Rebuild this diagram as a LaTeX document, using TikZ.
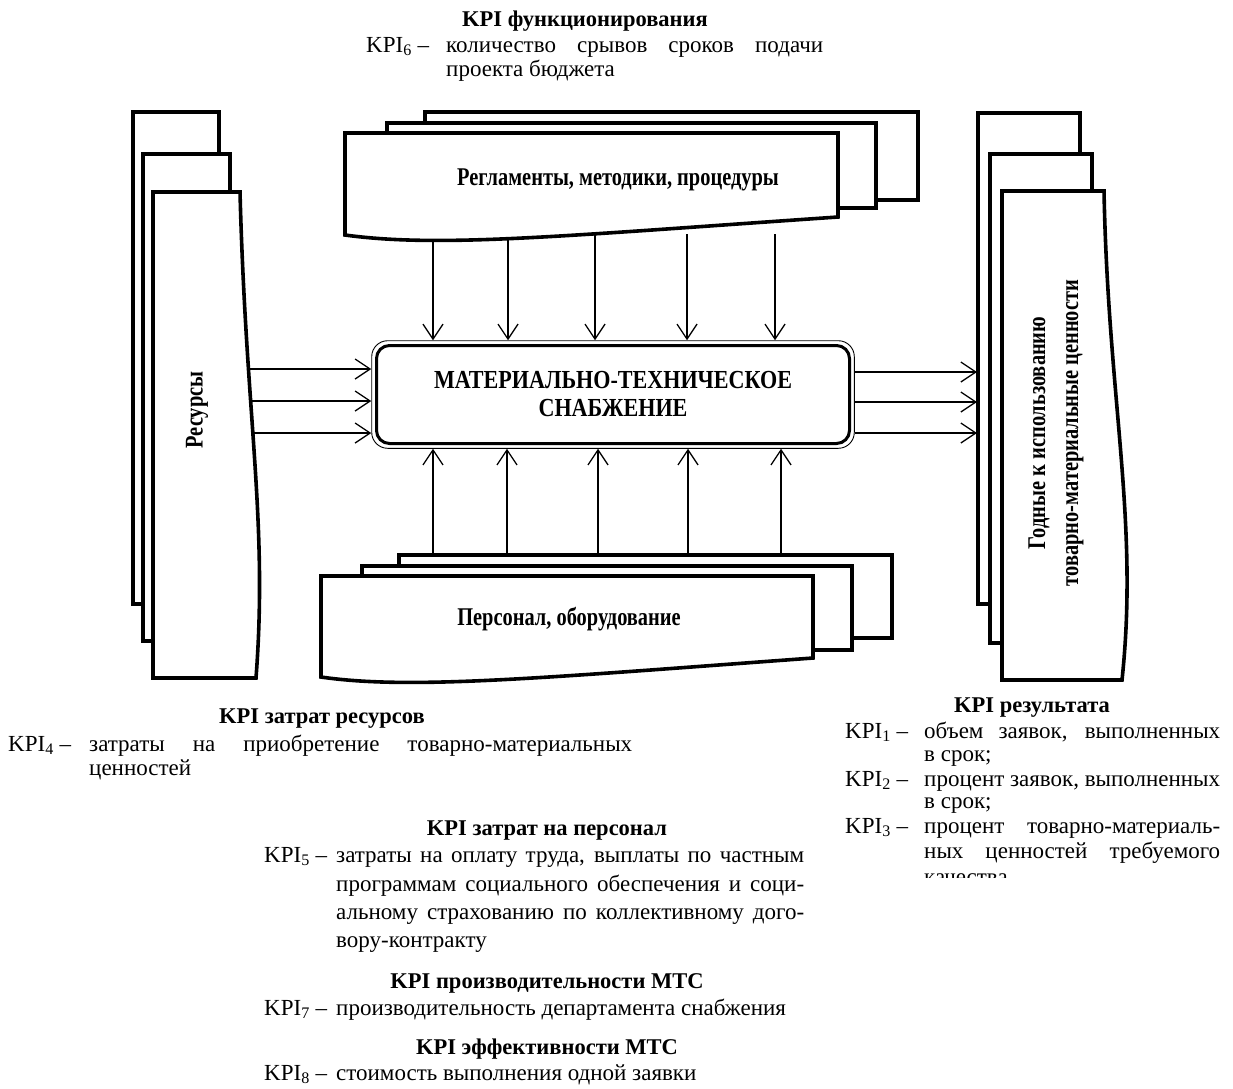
\documentclass[tikz,border=0pt]{standalone}
\usepackage{fontspec}
\setmainfont{Liberation Serif}
\newfontfamily\condf[FakeStretch=0.8]{Liberation Serif}
\newfontfamily\boxf[FakeStretch=0.85]{Liberation Serif}
\usetikzlibrary{arrows.meta,fit}

\begin{document}
\begin{tikzpicture}[x=1pt,y=-1pt,
  doc/.style={draw=black, fill=white, line width=3.6pt, line join=miter},
  arr/.style={line width=1.3pt, -{Straight Barb[length=15pt,width=20pt]}},
  ttl/.style={inner sep=0pt, anchor=base, font=\fontsize{22.5}{26}\selectfont\bfseries},
  txt/.style={inner sep=0pt, anchor=base west, font=\fontsize{23}{26}\selectfont},
  lbl/.style={inner sep=0pt, font=\fontsize{25.5}{33}\selectfont\condf\bfseries, align=center},
]
\fill[white] (0,0) rectangle (1233,1088);
\useasboundingbox (0,0) rectangle (1233,1088);

% central box
\node[draw, line width=3pt, rounded corners=13pt, minimum width=473pt, minimum height=98pt,
      inner sep=0pt, align=center, font=\fontsize{26}{28}\selectfont\boxf\bfseries]
      (box) at (613,394.5) {МАТЕРИАЛЬНО-ТЕХНИЧЕСКОЕ\\СНАБЖЕНИЕ};
\node[draw, line width=0.9pt, rounded corners=16pt, fit=(box), inner sep=3.3pt] (boxo) {};

% arrows from top documents
\foreach \i/\x in {1/433,2/508,3/595,4/687,5/775}{
  \coordinate (t\i) at (\x,234);
  \draw[arr] (t\i) -- (t\i |- boxo.north);
}
% arrows from bottom documents
\foreach \i/\x in {1/433,2/507,3/598,4/688,5/781}{
  \coordinate (b\i) at (\x,555);
  \draw[arr] (b\i) -- (b\i |- boxo.south);
}

% left stack (resources)
\draw[doc] (133,112) rectangle (219,604);
\draw[doc] (143,154) rectangle (230,641);
\draw[doc] (153,192) -- (240,192) .. controls (246,420) and (268,520) .. (256,678) -- (153,678) -- cycle;
\node[lbl, rotate=90] (res) at (197,410) {Ресурсы};

% top stack
\draw[doc] (425,112) rectangle (918,200);
\draw[doc] (387,123) rectangle (876,208);
\draw[doc] (345,133) -- (838,133) -- (838,217) .. controls (560,236) and (440,248) .. (345,235) -- cycle;
\node[lbl] (reg) at (618,180) {Регламенты, методики, процедуры};

% bottom stack
\draw[doc] (399,555) rectangle (892,638);
\draw[doc] (362,566) rectangle (852,650);
\draw[doc] (321,576) -- (813,576) -- (813,658) .. controls (540,678) and (410,690) .. (321,677) -- cycle;
\node[lbl] (pers) at (569,619) {Персонал, оборудование};

% right stack
\draw[doc] (978,113) rectangle (1080,604);
\draw[doc] (990,154) rectangle (1092,643);
\draw[doc] (1002,191) -- (1104,191) .. controls (1108,400) and (1139,520) .. (1122,680) -- (1002,680) -- cycle;
\node[lbl, rotate=90] (god) at (1056,433) {Годные к использованию\\товарно-материальные ценности};

% left arrows
\coordinate (l1) at (249,369);
\coordinate (l2) at (251,401);
\coordinate (l3) at (253,433);
\foreach \i in {1,2,3}{\draw[arr] (l\i) -- (l\i -| boxo.west);}
% right arrows
\coordinate (r1) at (977,372);
\coordinate (r2) at (977,402);
\coordinate (r3) at (977,433);
\foreach \i in {1,2,3}{\draw[arr] (r\i -| boxo.east) -- (r\i);}

% top text block
\node[ttl] (h6) at (585,26) {KPI функционирования};
\node[txt] (k6) at (366,52) {KPI\textsubscript{6} –};
\node[txt] (t6a) at (446,52) {\makebox[377pt][s]{количество срывов сроков подачи}};
\node[txt] (t6b) at (446,76) {проекта бюджета};

% left text block
\node[ttl] (h4) at (322,723) {KPI затрат ресурсов};
\node[txt] (k4) at (8,751) {KPI\textsubscript{4} –};
\node[txt] (t4a) at (89,751) {\makebox[543pt][s]{затраты на приобретение товарно-материальных}};
\node[txt] (t4b) at (89,775) {ценностей};

% right text block
\node[ttl] (h1) at (1032,712) {KPI результата};
\node[txt] (k1) at (845,738) {KPI\textsubscript{1} –};
\node[txt] (t1a) at (924,738) {\makebox[296pt][s]{объем заявок, выполненных}};
\node[txt] (t1b) at (924,761) {в срок;};
\node[txt] (k2) at (845,786) {KPI\textsubscript{2} –};
\node[txt] (t2a) at (924,786) {\makebox[296pt][s]{процент заявок, выполненных}};
\node[txt] (t2b) at (924,808) {в срок;};
\node[txt] (k3) at (845,833) {KPI\textsubscript{3} –};
\node[txt] (t3a) at (924,833) {\makebox[296pt][s]{процент товарно-материаль-}};
\node[txt] (t3b) at (924,858) {\makebox[296pt][s]{ных ценностей требуемого}};
\begin{scope}
  \clip (900,862) rectangle (1233,877);
  \node[txt] (t3c) at (924,884) {качества.};
\end{scope}

% middle text block
\node[ttl] (h5) at (547,835) {KPI затрат на персонал};
\node[txt] (k5) at (264,862) {KPI\textsubscript{5} –};
\node[txt] (t5a) at (336,862) {\makebox[468pt][s]{затраты на оплату труда, выплаты по частным}};
\node[txt] (t5b) at (336,891) {\makebox[468pt][s]{программам социального обеспечения и соци-}};
\node[txt] (t5c) at (336,919) {\makebox[468pt][s]{альному страхованию по коллективному дого-}};
\node[txt] (t5d) at (336,947) {вору-контракту};
\node[ttl] (h7) at (547,988) {KPI производительности МТС};
\node[txt] (k7) at (264,1015) {KPI\textsubscript{7} –};
\node[txt] (t7a) at (336,1015) {производительность департамента снабжения};
\node[ttl] (h8) at (547,1054) {KPI эффективности МТС};
\node[txt] (k8) at (264,1080) {KPI\textsubscript{8} –};
\node[txt] (t8a) at (336,1080) {стоимость выполнения одной заявки};
\end{tikzpicture}
\end{document}
